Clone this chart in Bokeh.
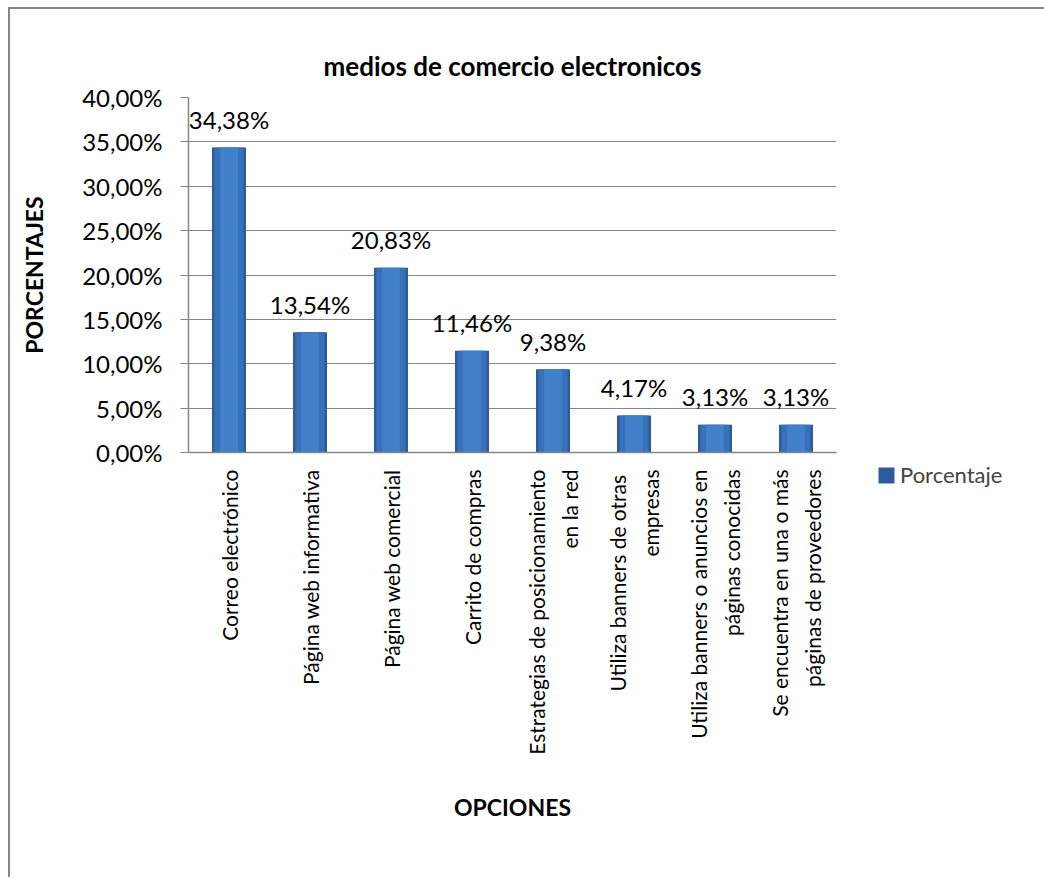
from bokeh.plotting import figure
from bokeh.models import (FactorRange, Range1d, FixedTicker, Legend, LegendItem,
                          ColumnDataSource)
from bokeh.core.properties import value
from bokeh.embed import file_html
from bokeh.resources import INLINE
import math

# ---- data ----
categories = [
    "Correo electrónico",
    "Página web informativa",
    "Página web comercial",
    "Carrito de compras",
    "Estrategias de posicionamiento\nen la red",
    "Utiliza banners  de otras\nempresas",
    "Utiliza banners o anuncios en\npáginas conocidas",
    "Se encuentra en una o más\npáginas de proveedores",
]
porcentaje = [34.38, 13.54, 20.83, 11.46, 9.38, 4.17, 3.13, 3.13]
value_labels = ["34,38%", "13,54%", "20,83%", "11,46%", "9,38%", "4,17%", "3,13%", "3,13%"]
y_ticks = [0, 5, 10, 15, 20, 25, 30, 35, 40]
y_tick_labels = ["0,00%", "5,00%", "10,00%", "15,00%", "20,00%", "25,00%",
                 "30,00%", "35,00%", "40,00%"]

FONT = "Lato"
GRAY = "#868686"

src = ColumnDataSource(dict(cat=categories, val=porcentaje, lab=value_labels))

p = figure(x_range=FactorRange(*categories), y_range=Range1d(0, 40),
           frame_width=648, frame_height=355, output_backend="svg", toolbar_location=None,
           min_border_left=178, min_border_right=206, min_border_top=88,
           min_border_bottom=425)
p.styles = {"border-left": "2px solid #868686", "border-top": "2px solid #868686",
            "margin-left": "8px", "margin-top": "7px"}
p.title.text = "medios de comercio electronicos"
p.title.align = "center"
p.title.text_font = FONT
p.title.text_font_size = "26px"
p.title.text_font_style = "bold"
p.title.text_color = "black"
p.title.offset = 0
p.title.standoff = 32
p.outline_line_color = None
p.background_fill_color = "white"
p.border_fill_color = "white"

# bars (layered for a shaded look)
outer = p.vbar(x="cat", top="val", width=0.42, source=src, fill_color="#2c5c9c",
               line_color=None)
p.vbar(x="cat", top="val", width=0.36, source=src, fill_color="#3970ba", line_color=None)
p.vbar(x="cat", top="val", width=0.22, source=src, fill_color="#4180cb", line_color=None)

p.text(x="cat", y="val", text="lab", source=src, text_align="center",
       text_baseline="alphabetic", y_offset=-28, text_font=value(FONT),
       text_font_size="24px", text_color="black")

# y axis
p.yaxis.ticker = FixedTicker(ticks=y_ticks)
p.yaxis.major_label_overrides = {t: l for t, l in zip(y_ticks, y_tick_labels)}
p.yaxis.axis_label = "PORCENTAJES"
p.yaxis.axis_line_color = GRAY
p.yaxis.axis_line_width = 1.5
p.yaxis.major_tick_out = 8
p.yaxis.major_tick_in = 0
p.yaxis.major_tick_line_color = GRAY
p.yaxis.minor_tick_line_color = None
p.yaxis.major_label_standoff = 18
p.yaxis.axis_label_standoff = 31

# x axis
p.xaxis.axis_label = "OPCIONES"
p.xaxis.axis_line_color = GRAY
p.xaxis.axis_line_width = 1.5
p.xaxis.major_tick_line_color = None
p.xaxis.major_tick_out = 0
p.xaxis.major_label_orientation = math.pi / 2
p.xaxis.major_label_standoff = 17
p.xaxis.axis_label_standoff = 35

for ax in (p.xaxis[0], p.yaxis[0]):
    ax.major_label_text_font = FONT
    ax.major_label_text_font_size = "24px"
    ax.major_label_text_color = "black"
    ax.axis_label_text_font = FONT
    ax.axis_label_text_font_size = "23px"
    ax.axis_label_text_font_style = "bold"
    ax.axis_label_text_color = "black"
p.xaxis.major_label_text_font_size = "21px"
p.xaxis.major_label_text_line_height = 1.35

p.xgrid.grid_line_color = None
p.ygrid.grid_line_color = GRAY
p.ygrid.grid_line_width = 1.2

legend = Legend(items=[LegendItem(label="Porcentaje", renderers=[outer])],
                location=(40, -36), label_text_font=FONT, label_text_font_size="22px",
                glyph_width=20, glyph_height=20, padding=0, margin=0, spacing=0,
                label_standoff=4, border_line_color=None, background_fill_alpha=0)
p.add_layout(legend, "right")

open("out.html", "w").write(file_html(p, INLINE))
